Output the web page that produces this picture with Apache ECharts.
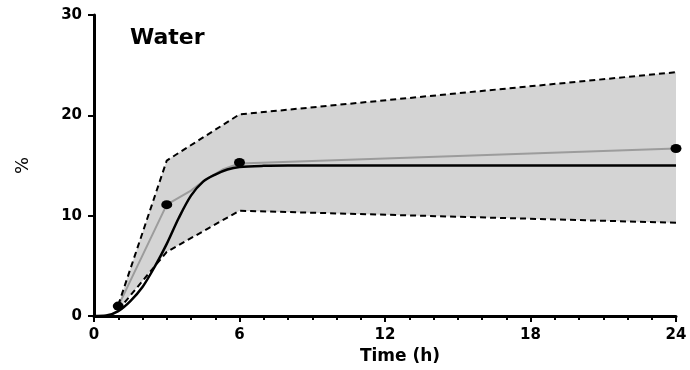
<!DOCTYPE html>
<html>
<head>
<meta charset="utf-8">
<script src="https://cdn.jsdelivr.net/npm/echarts@6/dist/echarts.min.js"></script>
<style>
html,body{margin:0;padding:0;background:#fff;}
#c{width:690px;height:370px;}
</style>
</head>
<body>
<div id="c"></div>
<script>
// ---- data ----
const title = 'Water';
const xName = 'Time (h)';
const yName = '%';
const xTicks = [0, 6, 12, 18, 24];
const yTicks = [0, 10, 20, 30];

// observed points
const obsTime = [1, 3, 6, 24];
const obsValue = [1.0, 11.1, 15.3, 16.7];

// confidence band (dashed limits)
const bandTime = [1, 3, 6, 24];
const bandLower = [0.6, 6.4, 10.5, 9.3];
const bandUpper = [1.1, 15.5, 20.1, 24.3];

// grey line (observed median trace)
const greyTime = [1, 3, 3.5, 4.0, 4.6, 5.3, 6, 24];
const greyValue = [1.0, 11.1, 11.8, 12.5, 13.6, 14.6, 15.2, 16.7];

// black fitted curve
const fitTime = [0, 0.5, 1, 1.5, 2, 2.5, 3, 3.5, 4, 4.5, 5, 5.5, 6, 7, 8, 24];
const fitValue = [0, 0.05, 0.5, 1.5, 2.9, 4.9, 7.2, 9.8, 12.0, 13.4, 14.1, 14.6, 14.85, 14.97, 15.0, 15.0];

const pairs = (xs, ys) => xs.map((x, i) => [x, ys[i]]);

const FONT = 'DejaVu Sans';
const chart = echarts.init(document.getElementById('c'), null, {renderer: 'canvas'});
chart.setOption({
  animation: false,
  backgroundColor: '#ffffff',
  title: {
    text: title, left: 125, top: 22,
    textStyle: {fontFamily: FONT, fontWeight: 'bold', fontSize: 22, color: '#000'}
  },
  grid: {left: 94, right: 14, top: 15, bottom: 52},
  xAxis: {
    type: 'value', min: xTicks[0], max: xTicks[xTicks.length - 1], interval: 6,
    name: xName, nameLocation: 'middle', nameGap: 30,
    nameTextStyle: {fontFamily: FONT, fontWeight: 'bold', fontSize: 17, color: '#000', padding: [0, 0, 0, 30]},
    axisLine: {show: true, lineStyle: {color: '#000', width: 3}},
    axisTick: {show: true, length: 6, lineStyle: {color: '#000', width: 2}},
    minorTick: {show: true, splitNumber: 6, length: 4, lineStyle: {color: '#000', width: 2}},
    splitLine: {show: false},
    axisLabel: {margin: 12, fontFamily: FONT, fontWeight: 'bold', fontSize: 15, color: '#000'}
  },
  yAxis: {
    type: 'value', min: yTicks[0], max: yTicks[yTicks.length - 1], interval: 10,
    name: yName, nameLocation: 'middle', nameGap: 62, nameRotate: 90,
    nameTextStyle: {fontFamily: FONT, fontSize: 18, color: '#000'},
    axisLine: {show: true, lineStyle: {color: '#000', width: 3}},
    axisTick: {show: true, length: 6, lineStyle: {color: '#000', width: 2}},
    splitLine: {show: false},
    axisLabel: {margin: 12, fontFamily: FONT, fontWeight: 'bold', fontSize: 15, color: '#000'}
  },
  series: [
    {
      type: 'custom', name: 'band', z: 1,
      data: [[bandTime[0], bandLower[0]]],
      renderItem: function (params, api) {
        const pts = [];
        for (let i = 0; i < bandTime.length; i++) pts.push(api.coord([bandTime[i], bandUpper[i]]));
        for (let i = bandTime.length - 1; i >= 0; i--) pts.push(api.coord([bandTime[i], bandLower[i]]));
        return {type: 'polygon', shape: {points: pts}, style: {fill: '#d4d4d4', stroke: null}};
      },
      silent: true
    },
    {
      type: 'line', name: 'lower', z: 5,
      data: pairs(bandTime, bandLower), symbol: 'none',
      lineStyle: {color: '#000', width: 2, type: [6, 4]}
    },
    {
      type: 'line', name: 'upper', z: 5,
      data: pairs(bandTime, bandUpper), symbol: 'none',
      lineStyle: {color: '#000', width: 2, type: [6, 4]}
    },
    {
      type: 'line', name: 'grey', z: 3,
      data: pairs(greyTime, greyValue), symbol: 'none',
      lineStyle: {color: '#9c9c9c', width: 2}
    },
    {
      type: 'line', name: 'fit', z: 4, smooth: 0.3,
      data: pairs(fitTime, fitValue), symbol: 'none',
      lineStyle: {color: '#000', width: 2.5}
    },
    {
      type: 'scatter', name: 'obs', z: 6,
      data: pairs(obsTime, obsValue), symbol: 'circle', symbolSize: [11, 9],
      itemStyle: {color: '#000', opacity: 1}
    }
  ]
});
</script>
</body>
</html>
